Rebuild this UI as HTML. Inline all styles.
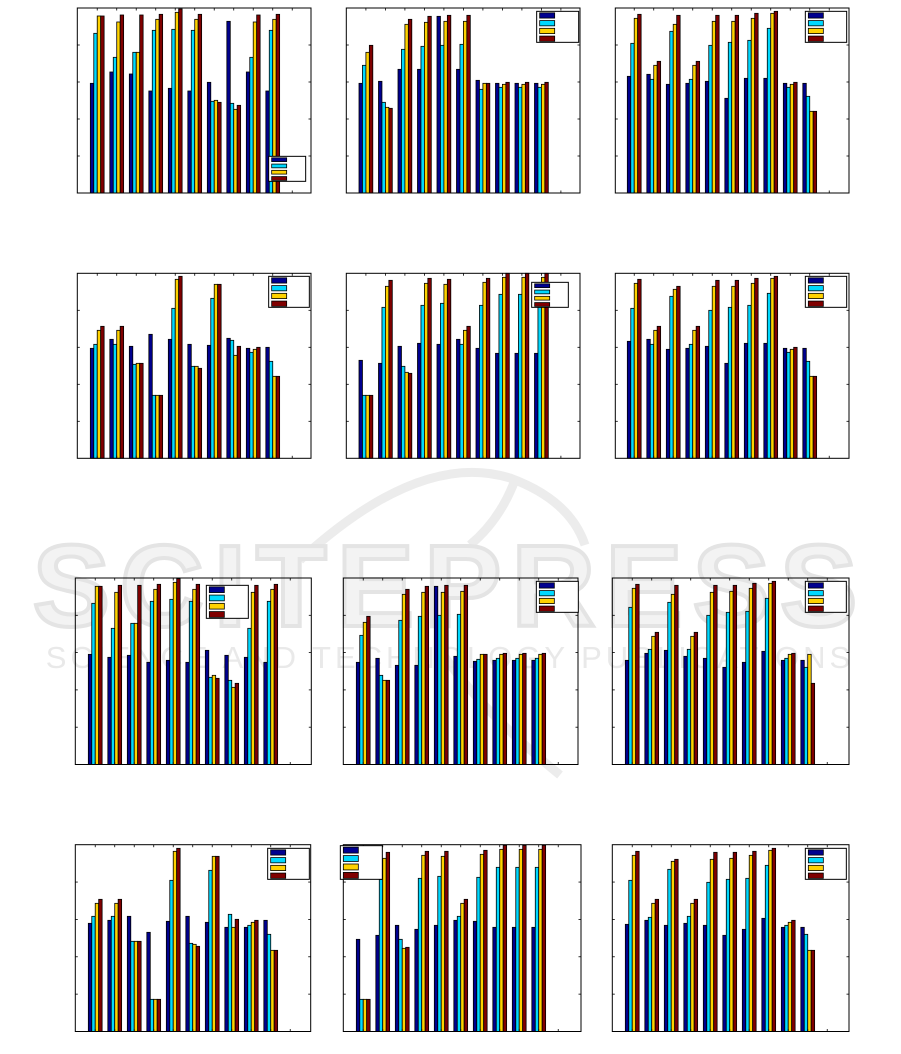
<!DOCTYPE html>
<html><head><meta charset="utf-8"><style>
html,body{margin:0;padding:0;background:#fff;}
svg{display:block;}
</style></head><body>
<svg id="s" width="901" height="1054" xmlns="http://www.w3.org/2000/svg">
<rect width="901" height="1054" fill="#fff"/>
<g fill="none" stroke="#ececec" stroke-width="9">
<path d="M300 560 Q420 450 510 478 Q570 500 585 545"/>
<path d="M440 650 Q480 710 560 775"/>
<path d="M515 480 Q500 520 470 545"/>
</g>
<text x="450" y="626" font-family="Liberation Sans, sans-serif" font-size="116" font-weight="bold" fill="#f3f3f3" stroke="#e4e4e4" stroke-width="4" text-anchor="middle" letter-spacing="10">SCITEPRESS</text>
<text x="450" y="668" font-family="Liberation Sans, sans-serif" font-size="31" fill="#e9e9e9" text-anchor="middle" letter-spacing="4">SCIENCE AND TECHNOLOGY PUBLICATIONS</text>
</svg>
<script>
var P=[
{x0:77.3,x1:311,y0:8,y1:193,ox:70,oy:0,g:61,L:[596,707,469,544],d:[[250,100,48,48],[216,172,66,45],[222,157,157,45],[273,91,58,43],[265,88,37,27],[273,91,58,43],[247,304,301,307],[64,310,328,316],[216,172,66,45],[273,91,58,43]]},
{x0:346.3,x1:580,y0:8,y1:193,ox:340,oy:0,g:57,L:[590,716,34,127],d:[[250,196,157,136],[244,307,322,325],[208,148,73,58],[208,139,67,49],[49,136,64,46],[208,133,64,46],[241,268,250,250],[250,262,253,247],[250,262,253,247],[250,262,253,247]]},
{x0:615.3,x1:849,y0:8,y1:193,ox:608,oy:0,g:58,L:[592,716,34,127],d:[[229,130,55,43],[223,238,196,184],[253,94,73,46],[250,238,196,184],[244,136,64,46],[295,127,64,46],[235,121,55,40],[235,85,40,34],[250,262,253,247],[250,289,334,334]]},
{x0:77.3,x1:311,y0:273.3,y1:458.3,ox:70,oy:266,g:61,L:[596,718,31,124],d:[[247,235,193,181],[220,235,193,181],[241,295,292,292],[205,388,388,388],[220,127,40,31],[235,301,301,307],[238,97,55,55],[217,223,268,241],[247,259,250,244],[244,286,331,331]]},
{x0:346.3,x1:580,y0:273.3,y1:458.3,ox:340,oy:266,g:57,L:[575,685,49,124],d:[[283,388,388,388],[292,124,61,43],[241,301,319,322],[232,118,52,37],[235,112,55,40],[220,235,193,181],[247,118,49,37],[262,85,34,22],[262,85,34,22],[262,85,34,22]]},
{x0:615.3,x1:849,y0:273.3,y1:458.3,ox:608,oy:266,g:58,L:[592,716,31,124],d:[[226,127,52,40],[220,235,193,181],[250,91,70,61],[247,235,193,181],[241,133,61,43],[292,124,61,43],[232,118,52,37],[232,82,37,31],[247,259,250,244],[247,286,331,331]]},
{x0:75.3,x1:311.3,y0:578,y1:764.5,ox:70,oy:572,g:55,L:[409,535,40,139],d:[[247,94,43,43],[256,169,61,40],[250,154,154,40],[271,88,52,37],[265,82,31,20],[271,88,52,37],[235,316,310,319],[250,325,346,334],[256,169,61,40],[271,88,52,37]]},
{x0:343.3,x1:578,y0:578,y1:764.5,ox:336,oy:572,g:61,L:[601,727,28,121],d:[[271,190,151,133],[259,310,325,325],[280,145,67,52],[280,133,61,43],[43,130,61,40],[253,127,58,40],[268,262,247,247],[265,259,247,244],[265,259,247,244],[265,259,247,244]]},
{x0:612.3,x1:849,y0:578,y1:764.5,ox:604,oy:572,g:64,L:[604,727,28,121],d:[[265,106,49,37],[244,232,193,181],[235,91,67,40],[253,232,193,181],[259,130,61,40],[286,121,58,40],[271,118,49,34],[238,79,34,28],[265,259,247,244],[265,286,247,334]]},
{x0:75.3,x1:310.7,y0:844.7,y1:1031.5,ox:70,oy:838,g:55,L:[593,718,31,124],d:[[256,235,196,184],[247,235,196,184],[235,310,310,310],[283,484,484,484],[250,127,40,31],[235,316,319,325],[253,97,55,55],[268,229,268,244],[268,262,253,247],[247,289,337,337]]},
{x0:343.3,x1:581,y0:844.7,y1:1031.5,ox:336,oy:838,g:61,L:[13,139,23,124],d:[[304,484,484,484],[292,124,61,43],[262,304,331,328],[274,121,52,40],[262,115,55,40],[247,235,196,184],[250,118,49,37],[268,88,34,22],[268,88,34,22],[268,88,34,22]]},
{x0:612.3,x1:849,y0:844.7,y1:1031.5,ox:604,oy:838,g:64,L:[604,727,31,124],d:[[259,127,52,40],[247,238,196,184],[262,94,70,64],[256,235,196,184],[262,133,64,43],[292,124,61,43],[274,121,52,40],[241,82,37,31],[268,262,253,247],[268,289,337,337]]}
];
var C=["#00008f","#00d8ff","#ffd200","#800000"];
var h="";
P.forEach(function(p){
  var bw=3.45,pitch=19.5;
  var gx0=p.ox+p.g/3;
  p.d.forEach(function(g,i){
    g.forEach(function(z,j){
      var y=p.oy+z/3; if(y<p.y0)y=p.y0;
      var x=gx0+i*pitch+j*bw;
      h+='<rect x="'+x.toFixed(2)+'" y="'+y.toFixed(2)+'" width="'+bw+'" height="'+(p.y1-y).toFixed(2)+'" fill="'+C[j]+'" stroke="#000" stroke-width="0.8"/>';
    });
  });
  for(var i=0;i<11;i++){
    var tx=gx0+i*pitch+2*bw;
    if(tx<p.x1-3){h+='<line x1="'+tx+'" y1="'+p.y0+'" x2="'+tx+'" y2="'+(p.y0+2.5)+'" stroke="#000" stroke-width="0.8"/>';
    h+='<line x1="'+tx+'" y1="'+p.y1+'" x2="'+tx+'" y2="'+(p.y1-2.5)+'" stroke="#000" stroke-width="0.8"/>';}
  }
  for(var k=1;k<5;k++){
    var ty=p.y1-(p.y1-p.y0)*k/5;
    h+='<line x1="'+p.x0+'" y1="'+ty+'" x2="'+(p.x0+2.5)+'" y2="'+ty+'" stroke="#000" stroke-width="0.8"/>';
    h+='<line x1="'+p.x1+'" y1="'+ty+'" x2="'+(p.x1-2.5)+'" y2="'+ty+'" stroke="#000" stroke-width="0.8"/>';
  }
  h+='<rect x="'+p.x0+'" y="'+p.y0+'" width="'+(p.x1-p.x0)+'" height="'+(p.y1-p.y0)+'" fill="none" stroke="#000" stroke-width="1"/>';
  var lx0=p.ox+p.L[0]/3,lx1=p.ox+p.L[1]/3,ly0=p.oy+p.L[2]/3,ly1=p.oy+p.L[3]/3;
  h+='<rect x="'+lx0+'" y="'+ly0+'" width="'+(lx1-lx0)+'" height="'+(ly1-ly0)+'" fill="#fff" stroke="#000" stroke-width="1"/>';
  var sh=(ly1-ly0)/4;
  for(var j=0;j<4;j++){
    h+='<rect x="'+(lx0+3)+'" y="'+(ly0+1.5+j*sh)+'" width="15" height="'+(sh-2.5)+'" fill="'+C[j]+'" stroke="#000" stroke-width="0.8"/>';
  }
});
document.getElementById("s").insertAdjacentHTML("beforeend",h);
</script>
</body></html>
